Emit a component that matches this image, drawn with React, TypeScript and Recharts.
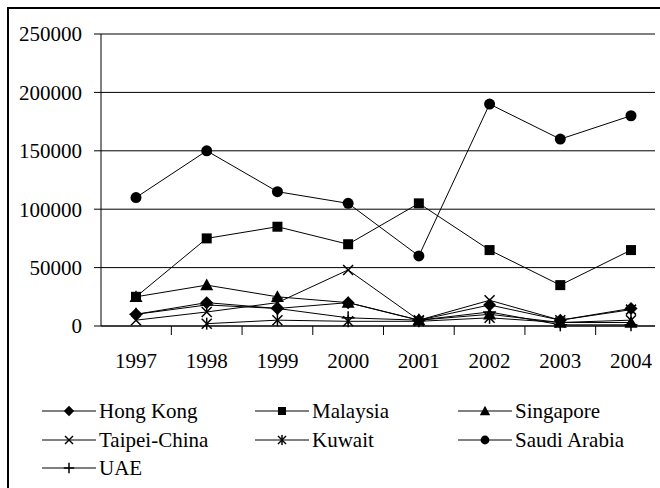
import React from "react";
import { LineChart, Line, XAxis, YAxis, CartesianGrid } from "recharts";

const years = ["1997", "1998", "1999", "2000", "2001", "2002", "2003", "2004"];
const hongKong = [10000, 20000, 15000, 20000, 5000, 18000, 5000, 15000];
const malaysia = [25000, 75000, 85000, 70000, 105000, 65000, 35000, 65000];
const singapore = [25000, 35000, 25000, 20000, 5000, 10000, 3000, 3000];
const taipei = [5000, 12000, 20000, 48000, 5000, 22000, 5000, 14000];
const kuwait = [null, 2000, 5000, 4000, 4000, 7000, 3000, 5000];
const saudi = [110000, 150000, 115000, 105000, 60000, 190000, 160000, 180000];
const uae = [10000, 18000, 15000, 7000, 5000, 12000, 1000, 1000];
const yTicks = [0, 50000, 100000, 150000, 200000, 250000];

const seriesNames = ["Hong Kong", "Malaysia", "Singapore", "Taipei-China", "Kuwait", "Saudi Arabia", "UAE"];
const seriesValues = [hongKong, malaysia, singapore, taipei, kuwait, saudi, uae];
const seriesMarkers = ["diamond", "square", "triangle", "x", "star", "circle", "plus"];

const data = years.map((y, i) => {
  const row: any = { year: y };
  seriesNames.forEach((n, k) => {
    row[n] = seriesValues[k][i];
  });
  return row;
});

const FONT = "Liberation Serif, Tinos, Times New Roman, DejaVu Serif, serif";
const CHART_W = 660;
const CHART_H = 380;
const MARGIN = { top: 34, right: 5, left: 0, bottom: 10 };
const Y_W = 101;
const PAD_L = 35;
const PAD_R = 24;
const PLOT_W = CHART_W - MARGIN.left - MARGIN.right - Y_W;
const STEP = (PLOT_W - PAD_L - PAD_R) / (years.length - 1);

function Marker({ type, cx, cy, s = 1 }: { type: string; cx: number; cy: number; s?: number }) {
  if (cx == null || cy == null || isNaN(cx) || isNaN(cy)) return null;
  switch (type) {
    case "diamond": {
      const r = 6.5 * s;
      return <polygon points={`${cx},${cy - r} ${cx + r},${cy} ${cx},${cy + r} ${cx - r},${cy}`} fill="#000" />;
    }
    case "square": {
      const r = 5 * s;
      return <rect x={cx - r} y={cy - r} width={2 * r} height={2 * r} fill="#000" />;
    }
    case "triangle": {
      const r = 6.5 * s;
      return <polygon points={`${cx},${cy - r} ${cx + r},${cy + r * 0.8} ${cx - r},${cy + r * 0.8}`} fill="#000" />;
    }
    case "x": {
      const r = 5 * s;
      return (
        <g stroke="#000" strokeWidth={1.5}>
          <line x1={cx - r} y1={cy - r} x2={cx + r} y2={cy + r} />
          <line x1={cx - r} y1={cy + r} x2={cx + r} y2={cy - r} />
        </g>
      );
    }
    case "star": {
      const r = 5 * s;
      return (
        <g stroke="#000" strokeWidth={1.5}>
          <line x1={cx - r} y1={cy - r} x2={cx + r} y2={cy + r} />
          <line x1={cx - r} y1={cy + r} x2={cx + r} y2={cy - r} />
          <line x1={cx} y1={cy - r - 1} x2={cx} y2={cy + r + 1} />
        </g>
      );
    }
    case "circle":
      return <circle cx={cx} cy={cy} r={5.5 * s} fill="#000" />;
    case "plus": {
      const r = 6.5 * s;
      return (
        <g stroke="#000" strokeWidth={1.5}>
          <line x1={cx - r} y1={cy} x2={cx + r} y2={cy} />
          <line x1={cx} y1={cy - r} x2={cx} y2={cy + r} />
        </g>
      );
    }
  }
  return null;
}

const XTick = (props: any) => {
  const { x, y, payload, index } = props;
  const last = index === years.length - 1;
  return (
    <g>
      <text x={x} y={y + 42} textAnchor="middle" style={{ fontFamily: FONT, fontSize: 21 }} fill="#000">
        {payload.value}
      </text>
      {!last && <line x1={x + STEP / 2} y1={y} x2={x + STEP / 2} y2={y + 9} stroke="#000" strokeWidth={1} />}
    </g>
  );
};

const YTick = (props: any) => {
  const { x, y, payload } = props;
  return (
    <text x={x} y={y} dy="0.35em" textAnchor="end" style={{ fontFamily: FONT, fontSize: 21 }} fill="#000">
      {payload.value}
    </text>
  );
};

const legendCols = [42, 255, 458];
const legendRows = [411, 440, 468];

export default function App() {
  return (
    <div style={{ position: "fixed", left: 0, top: 0, width: 660, height: 488, overflow: "hidden", background: "#fff", fontFamily: FONT }}>
      <div
        style={{
          position: "absolute",
          left: 7,
          top: 7,
          width: 800,
          height: 700,
          borderLeft: "2px solid #000",
          borderTop: "2px solid #000",
        }}
      />
      <div style={{ position: "absolute", left: 0, top: 0 }}>
        <LineChart width={CHART_W} height={CHART_H} data={data} margin={MARGIN}>
          <CartesianGrid horizontal vertical={false} stroke="#000" strokeWidth={1} />
          <XAxis
            dataKey="year"
            height={44}
            padding={{ left: PAD_L, right: PAD_R }}
            axisLine={{ stroke: "#000", strokeWidth: 1 }}
            tickLine={false}
            tickSize={0}
            tickMargin={0}
            tick={<XTick />}
            interval={0}
          />
          <YAxis
            width={Y_W}
            domain={[0, 250000]}
            ticks={yTicks}
            axisLine={{ stroke: "#000", strokeWidth: 1 }}
            tickLine={{ stroke: "#000", strokeWidth: 1 }}
            tickSize={7}
            tickMargin={12}
            tick={<YTick />}
            interval={0}
          />
          {seriesNames.map((n, k) => (
            <Line
              key={n}
              type="linear"
              dataKey={n}
              stroke="#000"
              strokeWidth={1}
              isAnimationActive={false}
              connectNulls={false}
              dot={(p: any) => (
                <Marker key={`${n}-${p.index}`} type={seriesMarkers[k]} cx={p.cx} cy={p.cy} />
              )}
              activeDot={false}
            />
          ))}
        </LineChart>
      </div>
      {seriesNames.map((n, k) => {
        const col = k % 3;
        const row = Math.floor(k / 3);
        return (
          <div
            key={n}
            style={{
              position: "absolute",
              left: legendCols[col],
              top: legendRows[row] - 14,
              height: 28,
              display: "flex",
              alignItems: "center",
              fontFamily: FONT,
              fontSize: 21,
              color: "#000",
              whiteSpace: "nowrap",
            }}
          >
            <svg width={54} height={20} style={{ marginRight: 3 }}>
              <line x1={0} y1={10} x2={54} y2={10} stroke="#000" strokeWidth={1} />
              <Marker type={seriesMarkers[k]} cx={27} cy={10} s={0.8} />
            </svg>
            <span>{n}</span>
          </div>
        );
      })}
    </div>
  );
}
